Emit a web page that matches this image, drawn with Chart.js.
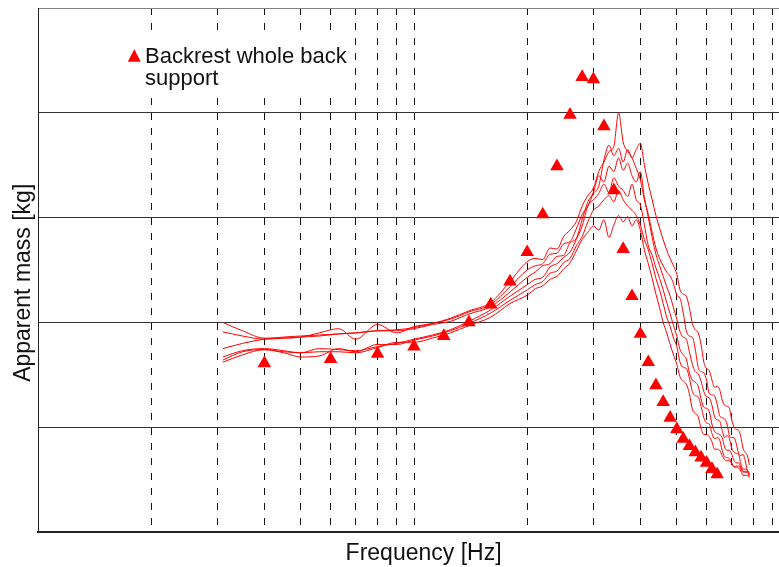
<!DOCTYPE html>
<html>
<head>
<meta charset="utf-8">
<title>Apparent mass - backrest</title>
<script src="https://cdn.jsdelivr.net/npm/chart.js"></script>
<style>
  html, body { margin: 0; padding: 0; background: #fff; overflow: hidden; }
  #wrap { width: 779px; height: 567px; overflow: hidden; }
</style>
</head>
<body>
<div id="wrap"><canvas id="chart" width="800" height="567"></canvas></div>
<script>
// measured curves share one frequency grid [Hz]
const freq = [0.31, 0.35, 0.4, 0.45, 0.5, 0.56, 0.63, 0.7, 0.8, 0.9, 1.0, 1.12, 1.25, 1.4, 1.6, 1.8,
  2.0, 2.1, 2.2, 2.3, 2.4, 2.5, 2.6, 2.7, 2.8, 2.9, 3.0, 3.1, 3.2, 3.3, 3.4, 3.5, 3.6, 3.7, 3.8, 3.9,
  4.0, 4.1, 4.2, 4.3, 4.4, 4.5, 4.6, 4.7, 4.8, 4.9, 5.0,
  5.1, 5.2, 5.3, 5.4, 5.5, 5.6, 5.7, 5.8, 5.9, 6.0, 6.1, 6.2, 6.3, 6.4,
  6.5, 6.6, 6.7, 6.8, 6.9, 7.0, 7.1, 7.2, 7.3, 7.4, 7.5, 7.6, 7.7, 7.8];

// apparent mass [kg], one array per measured curve
const massA = [20.0, 19.2, 18.5, 18.5, 18.6, 19.0, 19.4, 18.4, 19.8, 19.0, 19.6, 19.9, 20.4, 21.1, 21.9, 23.9,
  25.8, 26.1, 26.0, 27.1, 27.0, 28.2, 28.8, 29.6, 31.1, 32.1, 32.8, 34.4, 35.3, 36.3, 36.8, 40.0, 37.2, 36.3, 35.7, 34.7,
  33.6, 31.7, 30.3, 28.6, 27.1, 26.1, 25.4, 24.8, 24.4, 23.7, 22.6,
  22.3, 20.9, 19.2, 18.7, 18.6, 17.4, 15.7, 15.3, 15.2, 14.5, 13.2, 13.1, 13.0, 12.2,
  11.1, 10.9, 10.8, 10.3, 9.2, 9.0, 9.0, 8.4, 7.5, 7.3, 7.4, 6.8, 5.9, 5.7];
const massB = [19.1, 18.7, 18.4, 18.5, 18.6, 18.7, 18.9, 19.0, 19.2, 19.3, 19.5, 19.9, 20.3, 21.0, 21.7, 23.4,
  25.0, 25.4, 25.6, 26.5, 26.6, 27.5, 27.7, 28.9, 30.3, 31.1, 32.3, 33.0, 35.5, 36.9, 35.9, 36.6, 35.3, 36.5, 35.7, 36.5,
  37.1, 35.0, 33.2, 31.7, 30.2, 29.0, 27.9, 26.9, 26.1, 25.4, 24.6,
  23.1, 22.7, 22.5, 21.4, 19.9, 19.3, 19.0, 17.9, 16.2, 15.6, 15.4, 14.5, 13.8, 13.9,
  13.6, 12.6, 12.1, 12.0, 11.8, 10.7, 10.0, 9.8, 9.7, 9.1, 8.0, 7.6, 7.3, 6.4];
const massC = [17.5, 18.0, 18.4, 18.6, 18.7, 18.8, 18.9, 19.0, 19.2, 19.2, 19.4, 19.8, 20.1, 20.8, 21.5, 22.9,
  24.3, 24.8, 25.4, 25.6, 26.3, 26.4, 27.6, 28.0, 29.8, 31.5, 32.4, 34.0, 33.4, 34.9, 34.4, 35.7, 34.5, 35.2, 34.0, 33.4,
  34.4, 31.9, 30.0, 28.1, 26.5, 25.4, 24.4, 23.4, 22.5, 21.4, 20.3,
  19.1, 18.6, 18.4, 17.2, 16.0, 15.3, 15.1, 14.4, 13.4, 12.9, 12.8, 12.1, 11.0, 10.7,
  10.6, 9.7, 9.0, 9.2, 8.9, 8.0, 7.6, 7.5, 7.4, 6.5, 6.0, 6.0, 5.9, 5.4];
const massD = [16.7, 17.3, 17.5, 17.3, 17.1, 17.5, 17.4, 17.3, 17.7, 18.0, 18.4, 18.8, 19.3, 20.1, 21.2, 22.5,
  23.6, 24.1, 24.3, 25.3, 25.6, 26.2, 26.7, 27.9, 29.2, 31.1, 31.7, 32.3, 33.2, 32.4, 33.8, 33.0, 32.6, 32.0, 33.2, 31.7,
  31.2, 29.3, 27.3, 26.4, 25.2, 24.2, 23.1, 21.9, 20.8, 19.7, 18.7,
  17.4, 16.9, 16.5, 15.2, 14.5, 14.3, 13.9, 12.7, 11.9, 11.8, 11.5, 10.3, 9.6, 9.4,
  9.3, 9.0, 8.1, 7.8, 7.8, 7.4, 6.8, 6.6, 6.6, 6.2, 5.8, 5.7, 5.7, 5.3];
const massE = [16.4, 17.2, 17.4, 17.1, 16.7, 16.8, 17.5, 17.2, 17.9, 17.9, 18.3, 18.7, 19.2, 19.9, 20.9, 22.1,
  23.1, 23.6, 23.9, 24.7, 24.9, 25.7, 26.1, 27.3, 28.2, 29.6, 30.7, 31.1, 31.7, 32.1, 31.5, 32.6, 31.7, 31.1, 30.7, 30.2,
  29.3, 27.9, 26.9, 25.6, 24.2, 23.1, 21.8, 20.5, 19.6, 18.5, 17.7,
  16.2, 15.7, 15.6, 14.7, 13.4, 13.0, 12.9, 12.0, 10.9, 10.4, 10.3, 9.4, 8.9, 9.0,
  8.8, 7.8, 7.2, 7.1, 7.0, 6.6, 6.2, 6.2, 6.1, 5.8, 5.4, 5.4, 5.4, 5.2];
const massF = [16.2, 16.9, 17.4, 17.2, 17.1, 17.2, 17.2, 17.1, 17.6, 18.1, 18.1, 18.5, 19.0, 19.7, 20.5, 21.8,
  22.6, 23.2, 23.5, 24.1, 24.4, 25.1, 25.7, 26.8, 27.9, 28.6, 29.2, 28.8, 29.8, 28.1, 29.3, 30.2, 29.6, 30.1, 29.2, 29.8,
  28.8, 26.9, 25.6, 24.2, 22.7, 21.4, 20.0, 19.0, 17.9, 16.9, 16.0,
  14.8, 14.4, 14.1, 13.2, 11.7, 11.3, 11.0, 9.9, 9.3, 9.3, 9.1, 8.6, 7.9, 7.9,
  7.8, 7.3, 6.9, 6.8, 6.8, 6.5, 6.2, 6.3, 6.3, 6.0, 5.7, 5.8, 5.8, 5.5];

// model: backrest whole back support (triangles)
const modelFreq = [0.4, 0.6, 0.8, 1.0, 1.2, 1.4, 1.6, 1.8, 2.0, 2.2, 2.4, 2.6, 2.8, 3.0, 3.2, 3.4,
  3.6, 3.8, 4.0, 4.2, 4.4, 4.6, 4.8, 5.0, 5.2, 5.4, 5.6, 5.8, 6.0, 6.2, 6.4];
const modelMass = [16.1, 16.5, 17.0, 17.7, 18.7, 20.0, 21.7, 23.9, 26.7, 30.3, 34.9, 39.8, 43.4, 43.2, 38.7, 32.6,
  27.0, 22.5, 18.9, 16.2, 14.0, 12.4, 10.9, 9.8, 8.9, 8.2, 7.6, 7.1, 6.6, 6.0, 5.5];

// grid positions
const freqTicks = [0.1, 0.2, 0.3, 0.4, 0.5, 0.6, 0.7, 0.8, 0.9, 1, 2, 3, 4, 5, 6, 7, 8, 9, 10];
const massTicks = [0, 10, 20, 30, 40, 50];

const measured = [massA, massB, massC, massD, massE, massF];

Chart.defaults.font.family = "'Liberation Sans', Arial, sans-serif";
Chart.defaults.color = '#111';

// legend drawn inside the plot, on a white patch, text wrapped on two lines
const legendBox = {
  id: 'legendBox',
  beforeDatasetsDraw(chart) {
    const {ctx, chartArea} = chart;
    const ds = chart.data.datasets[0];
    const x = chartArea.left + 84;
    const y = chartArea.top + 24;
    ctx.save();
    ctx.fillStyle = '#fff';
    ctx.fillRect(x, y, 230, 60);

    // marker
    ctx.fillStyle = ds.pointBackgroundColor;
    ctx.beginPath();
    ctx.moveTo(x + 12.3, y + 17.3);
    ctx.lineTo(x + 18.8, y + 29.7);
    ctx.lineTo(x + 5.8, y + 29.7);
    ctx.closePath();
    ctx.fill();

    // wrapped label
    ctx.font = "22px 'Liberation Sans', Arial, sans-serif";
    ctx.fillStyle = '#111';
    ctx.textBaseline = 'alphabetic';
    const lines = [];
    let line = '';
    ds.label.split(' ').forEach(w => {
      const t = line ? line + ' ' + w : w;
      if (ctx.measureText(t).width > 210 && line) { lines.push(line); line = w; } else { line = t; }
    });
    lines.push(line);
    lines.forEach((l, i) => ctx.fillText(l, x + 23, y + 30.7 + i * 21.8));
    ctx.restore();
  }
};

const chart = document.querySelector('#chart').getContext('2d');

new Chart(chart, {
  type: 'line',
  data: {
    datasets: [
      {
        label: 'Backrest whole back support',
        data: modelFreq.map((f, i) => ({x: f, y: modelMass[i]})),
        showLine: false,
        pointStyle: 'triangle',
        pointRadius: 7.8,
        pointBorderWidth: 0,
        pointBackgroundColor: '#ff0000',
        borderColor: '#ff0000',
        order: 0
      },
      ...measured.map((m, k) => ({
        label: 'Measured ' + (k + 1),
        data: freq.map((f, i) => ({x: f, y: m[i]})),
        borderColor: '#ff0000',
        borderWidth: 1,
        pointRadius: 0,
        cubicInterpolationMode: 'monotone',
        fill: false,
        order: 1
      }))
    ]
  },
  options: {
    responsive: false,
    animation: false,
    events: [],
    layout: { padding: { top: 8, right: 10, left: 0, bottom: 0 } },
    plugins: {
      legend: { display: false },
      tooltip: { enabled: false }
    },
    scales: {
      x: {
        type: 'logarithmic',
        min: 0.1,
        max: 10,
        afterBuildTicks: s => { s.ticks = freqTicks.map(v => ({value: v})); },
        afterFit: s => { s.height = 35; },
        ticks: { display: false },
        grid: { color: '#111', lineWidth: 1, drawTicks: false },
        border: { color: '#222', width: 2, dash: [7, 8] },
        title: {
          display: true,
          text: '   Frequency [Hz]',
          font: { size: 23, lineHeight: 1.2 },
          color: '#111',
          padding: { top: 0, bottom: 0 }
        }
      },
      y: {
        min: 0,
        max: 50,
        afterBuildTicks: s => { s.ticks = massTicks.map(v => ({value: v})); },
        afterFit: s => { s.width = 38; },
        ticks: { display: false },
        grid: {
          color: c => (c.tick && c.tick.value === 50 ? '#808080' : '#333'),
          lineWidth: 1,
          drawTicks: false
        },
        border: { color: '#222', width: 1 },
        title: {
          display: true,
          text: 'Apparent mass [kg]    ',
          font: { size: 23, lineHeight: 1.2 },
          color: '#111',
          padding: { top: 10, bottom: 0 }
        }
      }
    }
  },
  plugins: [legendBox]
});
</script>
</body>
</html>
